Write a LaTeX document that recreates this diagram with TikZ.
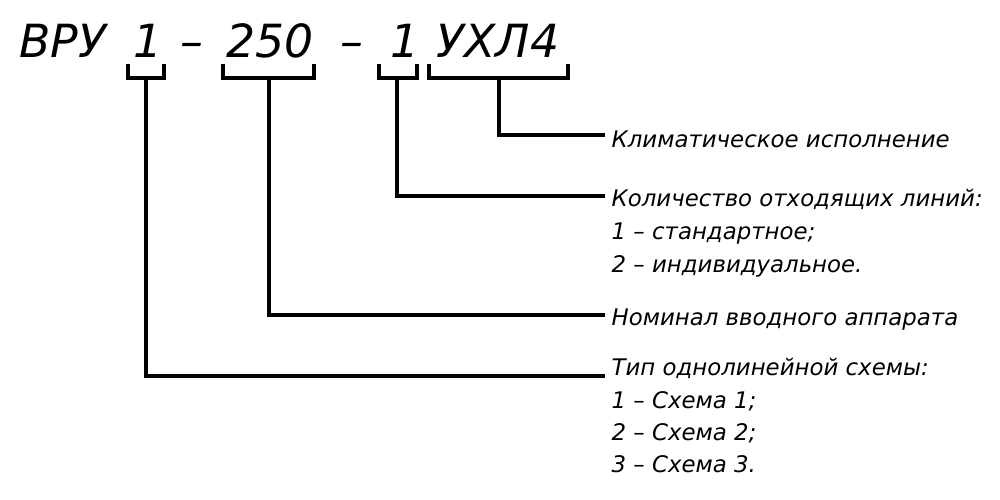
\documentclass[tikz,border=0pt]{standalone}
\usepackage{fontspec}
\setmainfont{DejaVu Sans}

\begin{document}
\begin{tikzpicture}[x=0.2mm, y=-0.2mm, line width=1.9pt]
\tikzstyle{every node} = [inner sep=0pt, font=\itshape\fontsize{13}{15}\selectfont]
\tikzstyle{codepart} = [anchor=base, font=\itshape\fontsize{26}{30}\selectfont]
\tikzstyle{descr} = [anchor=base west]
\useasboundingbox (0,0) rectangle (1000,500);

% designation
\node[codepart] (vru) at (63,57) {ВРУ};
\node[codepart] (n1) at (148,57) {1};
\node[codepart] (d1) at (192,57) {–};
\node[codepart] (n250) at (270,57) {250};
\node[codepart] (d2) at (352,57) {–};
\node[codepart] (n3) at (405,57) {1};
\node[codepart] (uhl) at (498,57) {УХЛ4};

% brackets
\coordinate (b1l) at (128,64);
\coordinate (b1s) at (146,78);
\coordinate (b1r) at (164,64);
\coordinate (b2l) at (223,64);
\coordinate (b2s) at (269,78);
\coordinate (b2r) at (314,64);
\coordinate (b3l) at (379,64);
\coordinate (b3s) at (397,78);
\coordinate (b3r) at (417,64);
\coordinate (b4l) at (429,64);
\coordinate (b4s) at (499,78);
\coordinate (b4r) at (568,64);

\draw (b1l) |- (b1s) -| (b1r);
\draw (b2l) |- (b2s) -| (b2r);
\draw (b3l) |- (b3s) -| (b3r);
\draw (b4l) |- (b4s) -| (b4r);

% descriptions
\node[descr] (klim) at (610,147) {Климатическое исполнение};
\node[descr] (kol) at (610,206) {Количество отходящих линий:};
\node[descr] (kol1) at (610,239) {1 – стандартное;};
\node[descr] (kol2) at (610,272) {2 – индивидуальное.};
\node[descr] (nom) at (610,325) {Номинал вводного аппарата};
\node[descr] (tip) at (610,375) {Тип однолинейной схемы:};
\node[descr] (tip1) at (610,408) {1 – Схема 1;};
\node[descr] (tip2) at (610,440) {2 – Схема 2;};
\node[descr] (tip3) at (610,472) {3 – Схема 3.};

% leaders
\coordinate (e4) at (605,135);
\coordinate (e3) at (605,196);
\coordinate (e2) at (605,315);
\coordinate (e1) at (605,376);

\draw (b4s) |- (e4);
\draw (b3s) |- (e3);
\draw (b2s) |- (e2);
\draw (b1s) |- (e1);
\end{tikzpicture}
\end{document}
